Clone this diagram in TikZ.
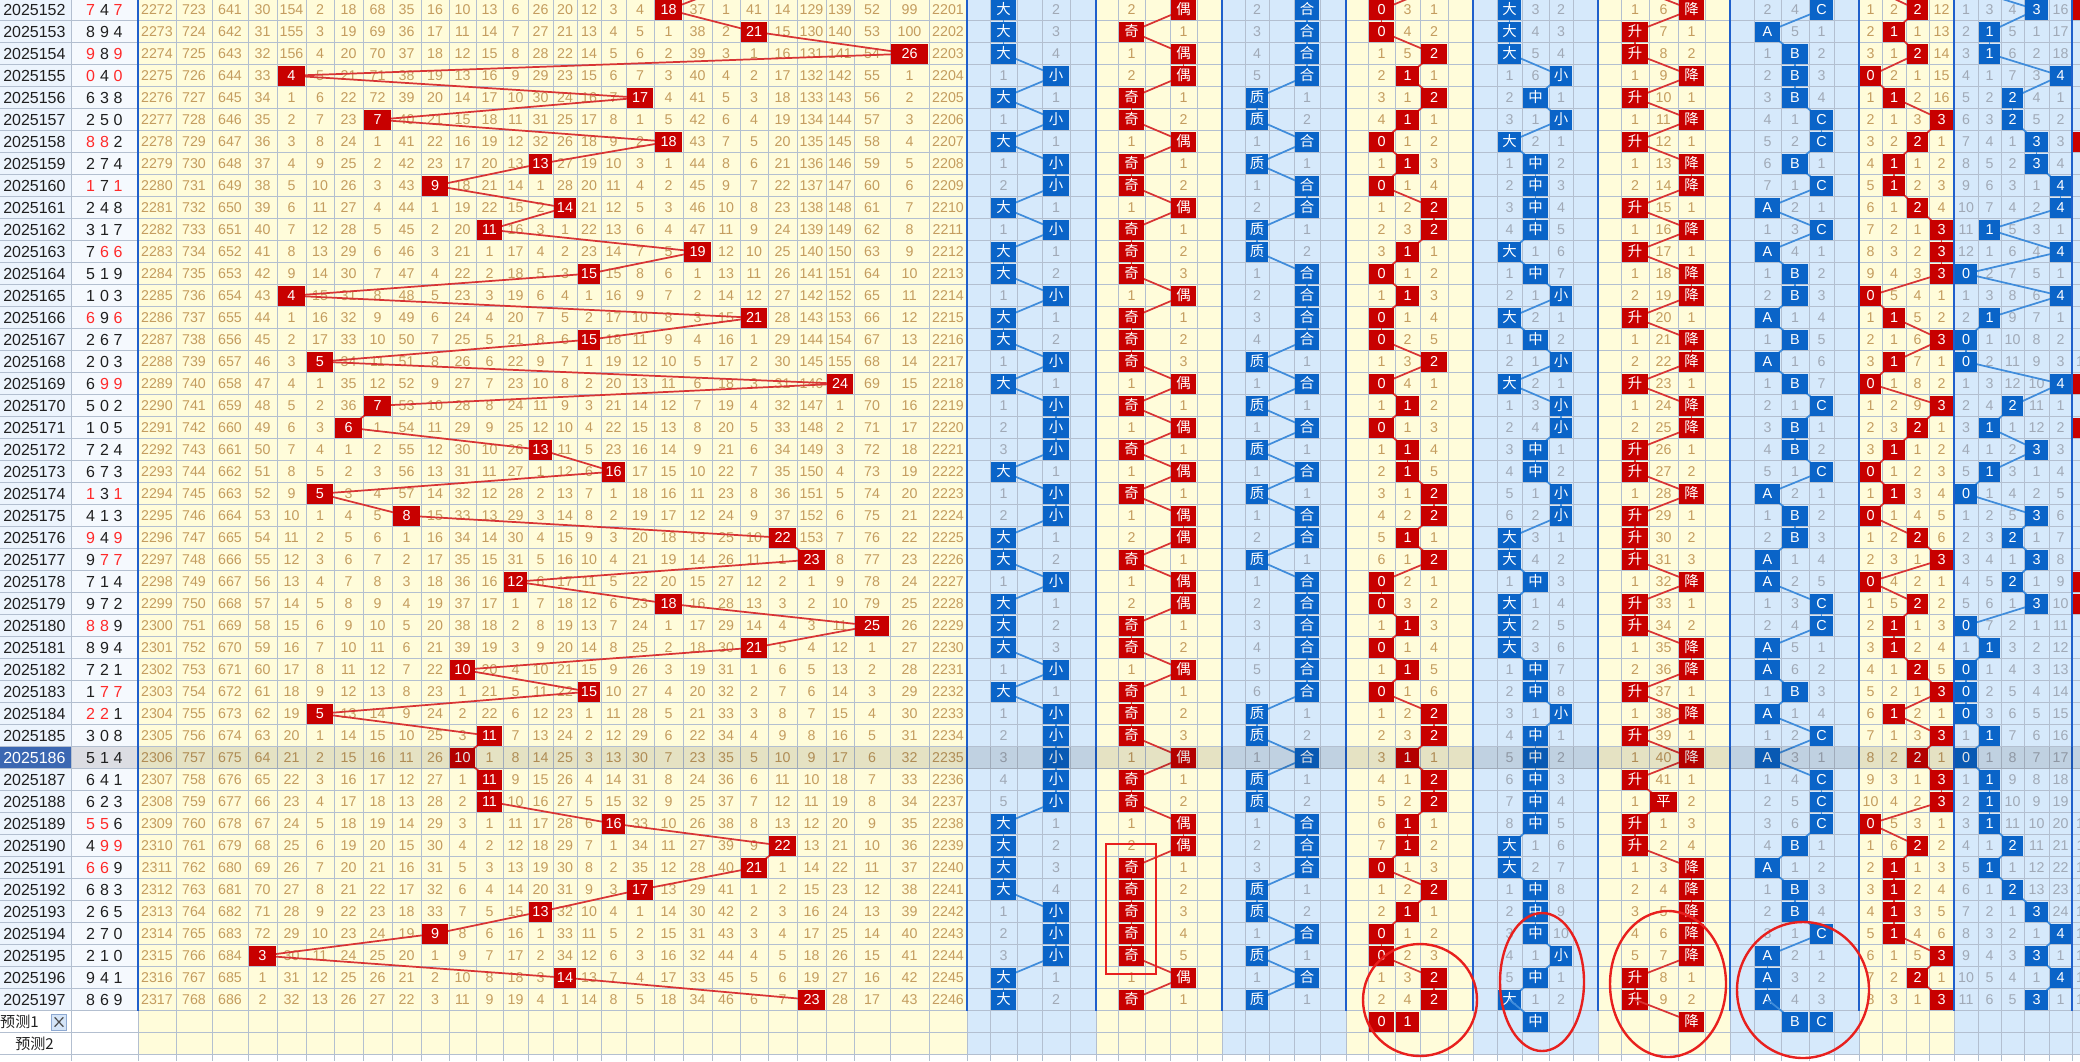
\documentclass[tikz,border=0pt]{standalone}
\usepackage{fontspec}
\setmainfont{Liberation Sans}
\newfontfamily\cjk{Noto Sans CJK SC}
\definecolor{ybg}{HTML}{FFFCDA}
\definecolor{bbg}{HTML}{D6E9FB}
\definecolor{gridc}{HTML}{B3BFD0}
\definecolor{tantxt}{HTML}{C49C5E}
\definecolor{graytxt}{HTML}{A0A9B6}
\definecolor{rboxc}{HTML}{C80000}
\definecolor{bboxc}{HTML}{0A64C8}
\definecolor{rlinec}{HTML}{D83434}
\definecolor{blinec}{HTML}{3F8CDB}
\definecolor{sepc}{HTML}{1F5FCB}
\definecolor{lblbg}{HTML}{ECF4FD}
\definecolor{digbg}{HTML}{F5F9FE}
\definecolor{hilbl}{HTML}{3B67B2}
\definecolor{hidig}{HTML}{DCDDE3}
\definecolor{annc}{HTML}{E8201E}
\definecolor{reddig}{HTML}{FF2A2A}
\definecolor{btnbg}{HTML}{D5E5F8}
\definecolor{btnbd}{HTML}{8EA9D2}
\definecolor{lbltx}{HTML}{202020}

\newcount\ri
\newcommand\setcs[2]{\expandafter\xdef\csname #1\endcsname{#2}}
\newcommand\getcs[1]{\csname #1\endcsname}
\newcommand\defsec[4]{%
  \global\ri=0
  \foreach \lx/\rx in {#2}{\setcs{xl-#1-\the\ri}{\lx}\setcs{xr-#1-\the\ri}{\rx}\global\advance\ri by 1 }%
  \global\ri=0
  \foreach \vv in {#3}{\setcs{om-#1-\the\ri}{\vv}\global\advance\ri by 1 }%
  \global\ri=0
  \foreach \vv in {#4}{\setcs{lb-#1-\the\ri}{\vv}\global\advance\ri by 1 }%
}
% #1 section, #2 last category, #3 box colour, #4 line colour, #5 text colour, #6 box font
\newcommand\drawsec[6]{%
  \foreach \i in {1,...,46}{%
    \pgfmathsetmacro\yc{22*\i-12.3}%
    \edef\cc{\getcs{ct-#1-\i}}%
    \foreach \cq in {0,...,#2}{%
      \ifnum\i>1\relax
        \ifnum\cc=\cq\relax \setcs{om-#1-\cq}{0}%
        \else \setcs{om-#1-\cq}{\the\numexpr\getcs{om-#1-\cq}+1\relax}\fi
      \fi
      \edef\ov{\getcs{om-#1-\cq}}%
      \ifnum\ov>0\relax
        \node[numtxt,text=#5] (n-#1-\i-\cq) at ({(\getcs{xl-#1-\cq}+\getcs{xr-#1-\cq})/2},\yc) {\ov};%
      \fi
    }%
  }%
  \foreach \i in {0,...,46}{%
    \pgfmathsetmacro\yc{22*\i-12.3}%
    \edef\cc{\getcs{ct-#1-\i}}%
    \coordinate (p-#1-\i) at ({(\getcs{xl-#1-\cc}+\getcs{xr-#1-\cc})/2},\yc);%
  }%
  \foreach \i [count=\ip from 0] in {1,...,46}{%
    \draw[conn,draw=#4] (p-#1-\ip) -- (p-#1-\i);%
  }%
  \foreach \i in {1,...,46}{%
    \edef\cc{\getcs{ct-#1-\i}}%
    \pgfmathsetmacro\bw{(\getcs{xr-#1-\cc}-\getcs{xl-#1-\cc}-2)*0.75}%
    \node[cellbox,fill=#3,minimum width=\bw pt,font={#6\fontsize{10.8pt}{12pt}\selectfont}] (b-#1-\i) at (p-#1-\i) {\getcs{lb-#1-\cc}};%
  }%
}

\tikzset{
  numtxt/.style={inner sep=0pt, font=\fontsize{10.65pt}{12pt}\selectfont, text height=7.6pt, text depth=0pt},
  cellbox/.style={inner sep=0pt, text=white, text height=7.7pt, text depth=0pt, minimum height=15pt},
  lbltxt/.style={inner sep=0pt, font=\fontsize{12pt}{14pt}\selectfont, text height=8.6pt, text depth=0pt},
  cjktxt/.style={inner sep=0pt, font=\cjk\fontsize{11.3pt}{13pt}\selectfont, text height=8pt, text depth=0pt, text=lbltx},
  conn/.style={line width=1.3pt},
  gridln/.style={draw=gridc, line width=0.6pt},
  sepln/.style={draw=sepc, line width=1.9pt},
  ann/.style={draw=annc, line width=1.8pt},
}

\begin{document}
\begin{tikzpicture}[x=0.75pt,y=-0.75pt]
\useasboundingbox (0,0) rectangle (2080,1061);
\clip (0,0) rectangle (2080,1061);

% ---------- data ----------
\global\ri=0
\foreach \vv in {20,18,21,26,4,17,7,18,13,9,14,11,19,15,4,21,15,5,24,7,6,13,16,5,8,22,23,12,18,25,21,10,15,5,11,10,11,11,16,22,21,17,13,9,3,14,23}{\setcs{sm\the\ri}{\vv}\global\advance\ri by 1 }
\foreach \ii in {0,...,46}{%
  \edef\sv{\getcs{sm\ii}}%
  \setcs{ct-S-\ii}{\sv}%
  \ifnum\sv>13\relax\setcs{ct-A-\ii}{0}\else\setcs{ct-A-\ii}{1}\fi
  \ifodd\sv\relax\setcs{ct-B-\ii}{0}\else\setcs{ct-B-\ii}{1}\fi
  \setcs{ct-C-\ii}{\ifcase\numexpr\sv\relax 1\or 0\or 0\or 0\or 1\or 0\or 1\or 0\or 1\or 1\or 1\or 0\or 1\or 0\or 1\or 1\or 1\or 0\or 1\or 0\or 1\or 1\or 1\or 0\or 1\or 1\or 1\or 1\fi}%
  \pgfmathtruncatemacro\mA{mod(\sv,3)}\setcs{ct-D-\ii}{\mA}%
  \ifnum\sv>17\relax\setcs{ct-E-\ii}{0}\else\ifnum\sv>8\relax\setcs{ct-E-\ii}{1}\else\setcs{ct-E-\ii}{2}\fi\fi
  \pgfmathtruncatemacro\mA{mod(\sv,4)}\setcs{ct-H-\ii}{\mA}%
  \pgfmathtruncatemacro\mA{mod(\sv,5)}\setcs{ct-I-\ii}{\mA}%
  \pgfmathtruncatemacro\mA{mod(\sv,6)}\setcs{ct-J-\ii}{\mA}%
}
\setcs{ct-F-0}{0}
\foreach \ii [count=\jj from 0] in {1,...,46}{%
  \edef\sv{\getcs{sm\ii}}\edef\pv{\getcs{sm\jj}}%
  \ifnum\sv>\pv\relax \setcs{ct-F-\ii}{0}\else\ifnum\sv=\pv\relax\setcs{ct-F-\ii}{1}\else\setcs{ct-F-\ii}{2}\fi\fi
}
\global\ri=0
\foreach \vv in {2,2,0,1,1,1,2,2,1,2,0,2,0,1,1,0,1,0,1,2,1,1,2,0,1,1,0,0,2,2,0,0,1,0,2,0,2,2,2,1,0,1,1,2,0,0,0}{\setcs{ct-G-\the\ri}{\vv}\global\advance\ri by 1 }

\defsec{S}{138/176,176/212,212/248,248/277,277/306,306/334,334/363,363/392,392/421,421/449,449/476,476/503,503/528,528/553,553/577,577/601,601/626,626/654,654/683,683/712,712/740,740/768,768/797,797/826,826/854,854/890,890/929,929/967}
  {2272,723,641,30,154,2,18,68,35,16,10,13,6,26,20,12,3,4,0,37,1,41,14,129,139,52,99,2201}
  {0,1,2,3,4,5,6,7,8,9,10,11,12,13,14,15,16,17,18,19,20,21,22,23,24,25,26,27}
\defsec{A}{990/1017,1042/1070}{0,2}{大,小}
\defsec{B}{1118/1145,1170/1197}{2,0}{奇,偶}
\defsec{C}{1245/1269,1294/1320}{2,0}{质,合}
\defsec{D}{1368/1395,1395/1420,1420/1448}{0,3,1}{0,1,2}
\defsec{E}{1497/1522,1522/1549,1549/1573}{0,3,2}{大,中,小}
\defsec{F}{1621/1649,1649/1678,1678/1705}{1,6,0}{升,平,降}
\defsec{G}{1754/1781,1781/1809,1809/1834}{2,4,0}{A,B,C}
\defsec{H}{1859/1882,1882/1906,1906/1929,1929/1954}{1,2,0,12}{0,1,2,3}
\defsec{I}{1954/1978,1978/2001,2001/2024,2024/2049,2049/2072}{1,3,4,0,16}{0,1,2,3,4}
\defsec{J}{2072/2096,2096/2120,2120/2144,2144/2168,2168/2192,2192/2216}{0,1,1,1,1,1}{0,1,2,3,4,5}

% ---------- backgrounds ----------
\fill[lblbg] (0,0) rectangle (71,1010.7);
\fill[digbg] (71,0) rectangle (138,1010.7);
\fill[white] (0,1010.7) rectangle (138,1061);
\fill[ybg] (138,0) rectangle (967,1054.7);
\fill[bbg] (967,0) rectangle (1096,1054.7);
\fill[ybg] (1096,0) rectangle (1222,1054.7);
\fill[bbg] (1222,0) rectangle (1346,1054.7);
\fill[ybg] (1346,0) rectangle (1473,1054.7);
\fill[bbg] (1473,0) rectangle (1598,1054.7);
\fill[ybg] (1598,0) rectangle (1730,1054.7);
\fill[bbg] (1730,0) rectangle (1859,1054.7);
\fill[ybg] (1859,0) rectangle (1954,1054.7);
\fill[bbg] (1954,0) rectangle (2080,1054.7);
\fill[white] (138,1054.7) rectangle (2080,1061);
\fill[hilbl] (0,746.7) rectangle (71,768.7);
\fill[hidig] (71,746.7) rectangle (138,768.7);

% ---------- grid ----------
\foreach \xx in {71,138,176,212,248,277,306,334,363,392,421,449,476,503,528,553,577,601,626,654,683,712,740,768,797,826,854,890,929,967,990,1017,1042,1070,1096,1118,1145,1170,1197,1222,1245,1269,1294,1320,1346,1368,1395,1420,1448,1473,1497,1522,1549,1573,1598,1621,1649,1678,1705,1730,1754,1781,1809,1834,1859,1882,1906,1929,1954,1978,2001,2024,2049,2072}
  {\draw[gridln] (\xx,0) -- (\xx,1061);}
\foreach \k in {1,...,49}{\pgfmathsetmacro\yy{22*\k-1.3}\draw[gridln] (0,\yy) -- (2080,\yy);}
\foreach \xx in {138,967,1096,1222,1346,1473,1598,1730,1859,1954,2072}
  {\draw[sepln] (\xx,0) -- (\xx,1010.7);}

% ---------- issue labels and digits ----------
\foreach \da/\db/\dc [count=\ii] in {7/4/7,8/9/4,9/8/9,0/4/0,6/3/8,2/5/0,8/8/2,2/7/4,1/7/1,2/4/8,
  3/1/7,7/6/6,5/1/9,1/0/3,6/9/6,2/6/7,2/0/3,6/9/9,5/0/2,1/0/5,
  7/2/4,6/7/3,1/3/1,4/1/3,9/4/9,9/7/7,7/1/4,9/7/2,8/8/9,8/9/4,
  7/2/1,1/7/7,2/2/1,3/0/8,5/1/4,6/4/1,6/2/3,5/5/6,4/9/9,6/6/9,
  6/8/3,2/6/5,2/7/0,2/1/0,9/4/1,8/6/9}{%
  \pgfmathsetmacro\yc{22*\ii-12.3}%
  \def\colA{lbltx}\def\colB{lbltx}\def\colC{lbltx}%
  \ifnum\da=\db\relax \def\colA{reddig}\def\colB{reddig}\fi
  \ifnum\da=\dc\relax \def\colA{reddig}\def\colC{reddig}\fi
  \ifnum\db=\dc\relax \def\colB{reddig}\def\colC{reddig}\fi
  \ifnum\ii=35\relax\def\lc{white}\else\def\lc{lbltx}\fi
  \node[lbltxt,anchor=west,text=\lc] (lab-\ii) at (3,\yc) {\the\numexpr2025151+\ii\relax};
  \node[lbltxt,text=\colA] (da-\ii) at (90.5,\yc) {\da};
  \node[lbltxt,text=\colB] (db-\ii) at (104.5,\yc) {\db};
  \node[lbltxt,text=\colC] (dc-\ii) at (118,\yc) {\dc};
}
\node[cjktxt,anchor=east] (pred1) at (39,1021.7) {预测1};
\node[draw=btnbd,fill=btnbg,line width=0.6pt,minimum width=11.5pt,minimum height=12pt,inner sep=0pt] (xbtn) at (59,1022) {};
\draw[line width=0.9pt,lbltx!80] ([shift={(2.8pt,-2.8pt)}]xbtn.north west) -- ([shift={(-2.8pt,2.8pt)}]xbtn.south east);
\draw[line width=0.9pt,lbltx!80] ([shift={(2.8pt,2.8pt)}]xbtn.south west) -- ([shift={(-2.8pt,-2.8pt)}]xbtn.north east);
\node[cjktxt,anchor=west] (pred2) at (15,1043.7) {预测2};

% ---------- sections ----------
\drawsec{S}{27}{rboxc}{rlinec}{tantxt}{\relax}
\drawsec{A}{1}{bboxc}{blinec}{graytxt}{\cjk}
\drawsec{B}{1}{rboxc}{rlinec}{tantxt}{\cjk}
\drawsec{C}{1}{bboxc}{blinec}{graytxt}{\cjk}
\drawsec{D}{2}{rboxc}{rlinec}{tantxt}{\relax}
\drawsec{E}{2}{bboxc}{blinec}{graytxt}{\cjk}
\drawsec{F}{2}{rboxc}{rlinec}{tantxt}{\cjk}
\drawsec{G}{2}{bboxc}{blinec}{graytxt}{\relax}
\drawsec{H}{3}{rboxc}{rlinec}{tantxt}{\relax}
\drawsec{I}{4}{bboxc}{blinec}{graytxt}{\relax}
\drawsec{J}{5}{rboxc}{rlinec}{graytxt}{\relax}

% ---------- forecast row ----------
\coordinate (qE) at (1535.5,1021.7);
\coordinate (qF) at (1691.5,1021.7);
\coordinate (qG) at (1795,1021.7);
\draw[conn,draw=blinec] (p-E-46) -- (qE);
\draw[conn,draw=rlinec] (p-F-46) -- (qF);
\draw[conn,draw=blinec] (p-G-46) -- (qG);
\tikzset{fbox/.style={cellbox,font=\fontsize{10.8pt}{12pt}\selectfont}}
\node[fbox,fill=rboxc,minimum width=18.75pt] (qD0) at (1381.5,1021.7) {0};
\node[fbox,fill=rboxc,minimum width=17.25pt] (qD1) at (1407.5,1021.7) {1};
\node[fbox,fill=bboxc,minimum width=18.75pt,font=\cjk\fontsize{10.8pt}{12pt}\selectfont] (qEb) at (qE) {中};
\node[fbox,fill=rboxc,minimum width=18.75pt,font=\cjk\fontsize{10.8pt}{12pt}\selectfont] (qFb) at (qF) {降};
\node[fbox,fill=bboxc,minimum width=19.5pt] (qGb) at (qG) {B};
\node[fbox,fill=bboxc,minimum width=17.25pt] (qGc) at (1821.5,1021.7) {C};

% ---------- highlighted issue ----------
\fill[black,opacity=0.1] (138,746.7) rectangle (2080,768.7);

% ---------- annotations ----------
\draw[ann,line width=2.1pt] (1106,844) rectangle (1156,974);
\draw[ann] (1420,1000) ellipse [x radius=42.75pt, y radius=42pt];
\draw[ann] (1542,982) ellipse [x radius=31.5pt, y radius=51.75pt];
\draw[ann] (1668,984) ellipse [x radius=43.5pt, y radius=54.75pt];
\draw[ann] (1803,990) ellipse [x radius=49.5pt, y radius=51pt];
\end{tikzpicture}
\end{document}
